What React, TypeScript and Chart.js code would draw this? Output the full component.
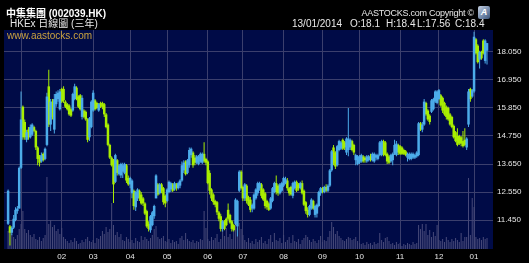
import React, { useEffect, useRef } from 'react';
import { Chart, registerables } from 'chart.js';

Chart.register(...registerables);

// ---- data (13/12/2012 .. 13/01/2014, daily) ----
const opens = [
  11.30,11.20,10.95,11.15,11.45,11.80,11.90,13.50,15.90,15.30,
  14.60,15.00,14.70,14.80,15.10,14.95,14.30,13.95,13.75,14.05,
  13.85,14.40,16.70,15.20,16.10,15.00,16.00,16.20,15.80,16.60,
  16.60,16.10,16.00,15.95,15.80,15.75,16.20,16.65,16.30,16.35,
  15.50,15.75,15.70,15.40,14.70,15.10,15.75,16.15,16.05,15.75,
  16.05,16.05,16.00,15.60,15.20,14.40,13.90,13.80,12.95,13.80,
  13.25,13.20,13.35,13.30,13.60,13.10,12.85,12.50,12.60,11.95,
  12.30,12.60,12.45,12.30,12.10,11.80,11.30,11.05,11.25,11.60,
  12.30,12.85,12.50,12.85,12.70,12.40,12.20,12.55,12.65,12.85,
  12.65,12.85,12.70,12.80,13.00,13.40,13.75,13.30,13.60,14.00,
  14.10,13.90,13.70,13.65,13.75,13.70,14.05,13.85,13.75,13.30,
  12.65,12.45,12.20,12.15,11.75,11.60,11.10,11.40,11.50,11.85,
  11.65,11.40,11.25,11.30,11.20,12.60,13.35,12.75,12.30,12.80,
  12.35,12.25,11.90,11.90,12.30,12.50,12.70,12.85,12.65,12.50,
  12.20,12.10,11.90,12.20,12.55,12.90,12.80,12.50,12.60,12.80,
  12.90,13.00,12.70,12.75,12.40,12.70,12.95,12.85,12.70,12.90,
  12.60,12.15,11.85,11.65,11.90,12.20,11.65,11.70,12.00,12.50,
  12.70,12.55,12.75,12.60,12.80,13.40,14.30,14.10,13.60,14.20,
  14.25,14.60,14.50,14.10,14.20,14.30,14.55,14.40,13.80,13.65,
  13.70,13.75,13.95,13.90,13.75,13.80,13.95,13.80,13.75,13.90,
  13.85,14.00,14.00,14.55,14.50,14.05,13.95,13.75,13.80,14.05,
  14.00,14.40,14.35,14.30,14.20,14.15,13.90,13.85,13.85,13.90,
  13.90,13.95,14.00,15.25,15.00,15.20,16.05,15.75,15.55,15.70,
  15.80,16.10,16.05,16.20,16.35,16.25,16.05,15.90,15.85,15.60,
  15.50,15.15,14.90,14.75,14.75,14.70,14.55,14.60,14.30,15.20,
  16.60,16.30,16.50,18.55,18.30,17.75,18.05,18.50,17.70,18.10,
];
const highs = [
  12.65,11.25,11.20,11.65,11.95,12.00,13.55,16.50,15.95,15.40,
  15.00,15.10,15.20,15.25,15.15,15.00,14.35,14.00,14.10,14.10,
  14.30,16.45,17.35,16.20,16.20,16.40,16.50,16.55,16.60,16.65,
  16.70,16.15,16.05,16.00,15.85,16.45,16.80,16.70,16.35,16.40,
  16.35,15.80,15.75,15.45,15.50,16.15,16.55,16.20,16.10,16.05,
  16.10,16.10,16.05,15.65,15.25,14.45,13.95,13.85,14.05,13.85,
  13.65,13.70,13.70,13.70,13.65,13.20,13.15,13.05,12.65,12.60,
  12.70,12.65,12.55,12.35,12.15,11.85,11.40,11.65,11.80,12.05,
  13.25,12.90,12.90,12.90,12.75,12.45,12.70,13.00,12.95,12.90,
  12.95,12.90,12.95,13.05,13.75,13.80,13.80,13.85,14.30,14.30,
  14.15,14.00,14.00,14.00,14.10,14.10,14.50,13.90,13.80,13.40,
  12.70,12.50,12.25,12.20,11.80,11.70,11.45,11.45,11.55,12.10,
  11.70,11.45,11.30,12.30,12.25,13.40,13.40,12.80,12.90,12.85,
  12.40,12.35,12.10,12.50,12.70,12.95,12.95,12.90,12.70,12.55,
  12.25,12.15,12.35,12.75,12.95,13.20,12.85,12.90,12.95,13.15,
  13.15,13.10,12.75,12.80,12.95,13.00,13.00,12.90,12.95,13.00,
  12.65,12.20,11.95,12.05,12.30,12.25,12.05,12.10,12.60,12.75,
  12.75,12.80,12.85,12.85,13.45,14.20,14.40,14.15,14.40,14.60,
  14.55,14.65,14.55,14.70,15.85,14.65,14.60,14.45,14.05,14.00,
  14.00,14.05,14.00,13.95,14.00,14.00,14.05,14.10,14.10,14.05,
  14.05,14.55,14.60,14.60,14.55,14.10,14.00,14.05,14.10,14.60,
  14.55,14.45,14.40,14.35,14.25,14.20,14.10,14.10,14.10,14.10,
  14.05,14.15,15.30,15.30,15.30,16.20,16.10,15.80,15.60,16.20,
  16.25,16.55,16.55,16.60,16.40,16.30,16.10,15.95,15.90,15.65,
  15.55,15.20,14.95,15.05,14.80,14.75,14.95,15.05,14.70,16.60,
  16.65,16.60,18.85,18.60,18.35,18.10,18.10,18.55,18.55,18.40,
];
const lows = [
  11.25,10.45,10.85,11.10,11.40,11.70,11.90,13.45,14.60,14.60,
  14.50,14.60,14.65,14.75,14.90,14.20,13.60,13.55,13.70,13.75,
  13.80,14.35,15.10,14.95,15.40,14.85,15.90,16.10,15.75,16.05,
  16.05,15.85,15.75,15.55,15.50,15.70,16.15,16.15,15.85,15.75,
  15.40,15.45,15.35,14.50,14.55,15.05,15.70,15.75,15.80,15.70,
  15.85,15.80,15.50,15.05,14.35,13.85,13.55,12.12,12.90,13.20,
  13.20,13.10,13.10,13.25,12.90,12.80,12.70,12.30,11.85,11.80,
  12.20,12.20,12.05,12.00,11.65,11.15,11.00,10.95,11.20,11.50,
  12.30,12.40,12.45,12.50,12.05,11.95,12.15,12.50,12.55,12.55,
  12.60,12.60,12.65,12.70,12.95,13.30,13.20,13.25,13.50,13.90,
  13.50,13.60,13.65,13.60,13.70,13.65,13.70,13.60,12.85,12.45,
  12.20,12.05,11.95,11.65,11.40,11.00,11.00,11.05,11.20,11.45,
  11.30,11.00,11.00,11.25,10.80,12.55,12.65,12.20,12.20,12.10,
  12.00,11.75,11.75,11.85,12.25,12.40,12.60,12.30,12.20,11.90,
  11.85,11.80,11.85,12.15,12.50,12.45,12.40,12.45,12.55,12.75,
  12.85,12.60,12.40,12.40,12.30,12.65,12.55,12.60,12.65,12.45,
  12.00,11.70,11.55,11.60,11.85,11.85,11.55,11.55,11.95,12.40,
  12.50,12.50,12.55,12.55,12.75,13.35,13.60,13.45,13.55,14.15,
  14.20,14.20,14.20,14.00,13.95,14.20,14.15,14.00,13.60,13.60,
  13.65,13.70,13.70,13.70,13.70,13.75,13.75,13.75,13.70,13.80,
  13.80,13.95,13.95,13.95,13.95,13.65,13.65,13.70,13.60,14.00,
  13.95,14.00,14.00,14.00,14.00,13.95,13.75,13.80,13.80,13.85,
  13.85,13.90,13.95,14.95,14.90,15.15,15.55,15.35,15.20,15.65,
  15.75,16.05,16.00,16.15,15.90,15.65,15.55,15.40,15.35,15.15,
  15.05,14.65,14.50,14.35,14.40,14.35,14.30,14.35,14.20,15.10,
  16.10,16.25,16.45,17.95,17.60,17.40,17.75,17.95,17.60,17.56,
];
const closes = [
  12.60,10.95,11.15,11.50,11.85,11.90,13.50,15.40,14.70,14.70,
  14.90,14.70,15.10,15.20,14.95,14.30,13.85,13.70,14.00,13.80,
  14.25,16.30,15.20,16.10,15.50,16.20,16.40,16.45,16.50,16.10,
  16.15,15.90,15.80,15.60,15.55,16.40,16.70,16.20,15.90,15.80,
  16.25,15.50,15.40,14.60,15.45,16.10,16.45,15.80,15.85,16.00,
  15.90,15.90,15.60,15.10,14.40,13.90,13.60,12.85,14.00,13.30,
  13.60,13.65,13.60,13.65,13.00,12.85,13.10,13.00,12.00,12.55,
  12.65,12.30,12.10,12.10,11.70,11.20,11.10,11.60,11.75,12.00,
  13.20,12.45,12.85,12.60,12.15,12.10,12.65,12.95,12.90,12.60,
  12.90,12.70,12.90,13.00,13.60,13.70,13.25,13.80,14.20,14.25,
  13.60,13.70,13.95,13.95,14.05,14.05,13.75,13.70,12.90,12.60,
  12.30,12.15,12.05,11.75,11.50,11.10,11.40,11.10,11.25,11.50,
  11.35,11.10,11.05,12.25,12.20,13.35,12.70,12.30,12.85,12.20,
  12.05,11.85,12.05,12.45,12.65,12.90,12.90,12.40,12.25,12.00,
  11.95,11.85,12.30,12.70,12.90,12.55,12.50,12.85,12.90,13.10,
  13.05,12.70,12.50,12.45,12.90,12.95,12.60,12.70,12.90,12.50,
  12.05,11.80,11.65,12.00,12.25,11.90,12.00,12.05,12.55,12.70,
  12.55,12.75,12.60,12.80,13.40,14.15,13.70,13.55,14.35,14.55,
  14.50,14.25,14.30,14.65,14.65,14.60,14.20,14.10,14.00,13.95,
  13.95,14.00,13.75,13.80,13.95,13.95,13.80,14.05,14.05,14.00,
  14.00,14.50,14.55,14.05,14.00,13.75,13.70,14.00,14.05,14.40,
  14.45,14.10,14.05,14.05,14.05,14.00,14.05,14.05,14.05,14.05,
  14.00,14.10,15.25,15.00,15.20,16.10,15.60,15.40,15.30,16.15,
  16.20,16.50,16.50,16.55,15.95,15.75,15.60,15.50,15.40,15.20,
  15.10,14.70,14.55,14.40,14.45,14.45,14.35,14.40,14.65,16.50,
  16.20,16.55,18.65,18.00,17.65,18.05,17.80,18.00,18.50,18.40,
];
const volumes = [
  18,22,15,12,10,14,20,25,38,20,
  16,19,14,12,15,10,9,12,8,11,
  14,72,25,29,22,24,18,20,15,21,
  12,10,8,6,9,7,11,8,5,6,
  9,7,10,12,8,7,9,6,11,10,
  13,18,15,22,17,20,46,24,14,17,
  12,15,9,8,12,10,7,9,6,11,
  8,7,13,9,12,10,8,11,14,20,
  23,12,10,11,13,8,7,10,6,9,
  7,8,5,11,13,9,16,10,8,7,
  9,6,8,7,10,9,38,21,10,8,
  12,9,11,15,7,10,18,13,21,12,
  15,10,22,24,21,26,20,14,9,7,
  11,6,8,5,10,7,9,12,6,8,
  5,10,14,7,16,9,8,11,6,14,
  7,9,12,6,14,8,7,10,5,9,
  11,14,12,9,7,10,8,6,9,13,
  7,9,8,12,18,27,22,15,18,13,
  11,9,8,10,12,11,9,10,12,8,
  6,5,6,4,7,5,6,4,7,5,
  6,16,9,7,11,12,8,5,6,4,
  7,5,6,3,5,4,6,5,4,7,
  5,6,24,20,25,18,25,14,19,12,
  17,13,24,9,8,10,7,12,9,7,
  10,8,11,9,7,16,8,12,12,71,
  14,51,42,12,10,11,9,12,10,11,
];
// first trading day of each month (index into the series) and its label
const monthStarts = [7, 29, 46, 66, 86, 108, 127, 149, 170, 190, 212, 233, 252];
const monthLabels = ['', '02', '03', '04', '05', '06', '07', '08', '09', '10', '11', '12', '01'];
const yTicks = [11.45, 12.55, 13.65, 14.75, 15.85, 16.95, 18.05];

const NAVY = '#000b47';
const GRID = '#3b3f6d';
const GREEN = '#a8ee00';
const BLUE = '#4cacea';
const VOL = '#474a7a';
const TXT = '#e6e6e6';
const FONT = "'Liberation Sans', Arial, sans-serif";

export default function App() {
  const ref = useRef<HTMLCanvasElement>(null);

  useEffect(() => {
    const idx = closes.map((_, i) => i);
    const isUp = (i: number) => closes[i] >= opens[i];
    const wickData = idx.map((i) => ({ x: i, y: [lows[i], highs[i]] }));
    const wickColors = idx.map((i) => (isUp(i) ? BLUE : GREEN));
    const upBodies = idx.filter(isUp).map((i) => ({ x: i, y: [opens[i], closes[i]] }));
    const downBodies = idx.filter((i) => !isUp(i)).map((i) => ({ x: i, y: [opens[i], closes[i]] }));
    const volData = idx.map((i) => ({ x: i, y: volumes[i] }));

    const bgPlugin = {
      id: 'bg',
      beforeDraw(chart: any) {
        const { ctx, chartArea: a, width, height } = chart;
        ctx.save();
        ctx.fillStyle = '#000';
        ctx.fillRect(0, 0, width, height);
        ctx.fillStyle = NAVY;
        ctx.fillRect(a.left, a.top, a.right - a.left, a.bottom - a.top);
        ctx.restore();
      },
    };

    const chart = new Chart(ref.current as HTMLCanvasElement, {
      type: 'bar',
      data: {
        datasets: [
          { label: 'vol', data: volData as any, yAxisID: 'yv', backgroundColor: VOL, barThickness: 1, grouped: false, order: 4, inflateAmount: 0 } as any,
          { label: 'wick', data: wickData as any, yAxisID: 'y', backgroundColor: wickColors, barThickness: 1, grouped: false, order: 3, inflateAmount: 0 } as any,
          { label: 'down', data: downBodies as any, yAxisID: 'y', backgroundColor: GREEN, barThickness: 2.5, grouped: false, order: 2, inflateAmount: 0 } as any,
          { label: 'up', data: upBodies as any, yAxisID: 'y', backgroundColor: BLUE, barThickness: 2.5, grouped: false, order: 1, inflateAmount: 0 } as any,
        ],
      },
      options: {
        responsive: false,
        animation: false,
        devicePixelRatio: 1,
        layout: { padding: { left: 4, top: 30, right: 0, bottom: 0 } },
        plugins: { legend: { display: false }, tooltip: { enabled: false }, title: { display: false } },
        scales: {
          x: {
            type: 'linear',
            min: -2.22,
            max: 262.24,
            offset: false,
            grid: { color: GRID, drawTicks: false, offset: false, lineWidth: 1 },
            border: { display: false },
            ticks: {
              color: TXT,
              font: { size: 8, family: FONT },
              padding: 3,
              autoSkip: false,
              maxRotation: 0,
              callback: (_v: any, i: number) => monthLabels[i] ?? '',
            },
            afterBuildTicks: (s: any) => {
              s.ticks = monthStarts.map((v) => ({ value: v }));
            },
            afterFit: (s: any) => {
              s.height = 14;
            },
          },
          y: {
            type: 'linear',
            position: 'right',
            min: 10.311,
            max: 18.914,
            grid: { color: GRID, drawTicks: false, lineWidth: 1 },
            border: { display: false },
            ticks: {
              color: TXT,
              font: { size: 8, family: FONT },
              padding: 4,
              callback: (v: any) => Number(v).toFixed(3),
            },
            afterBuildTicks: (s: any) => {
              s.ticks = yTicks.map((v) => ({ value: v }));
            },
            afterFit: (s: any) => {
              s.width = 36;
            },
          },
          yv: { type: 'linear', display: false, min: 0, max: 219 },
        },
      } as any,
      plugins: [bgPlugin],
    });
    return () => chart.destroy();
  }, []);

  const base: React.CSSProperties = {
    position: 'absolute',
    fontFamily: FONT,
    whiteSpace: 'pre',
    lineHeight: '12px',
    pointerEvents: 'none',
  };

  return (
    <div style={{ position: 'relative', width: 529, height: 263, background: '#000', overflow: 'hidden' }}>
      <style>{'html,body{margin:0;padding:0;background:#000;}'}</style>
      <canvas ref={ref} width={529} height={263} style={{ display: 'block', width: 529, height: 263 }} />
      <div style={{ ...base, left: 6, top: 8, fontSize: 10, fontWeight: 'bold', color: '#ffffff', fontFamily: "'Liberation Sans','Noto Sans CJK TC',sans-serif" }}>
        中集集團 (002039.HK)
      </div>
      <div style={{ ...base, left: 10, top: 18, fontSize: 10, color: '#e8e8e8', fontFamily: "'Liberation Sans','Noto Sans CJK TC',sans-serif" }}>
        HKEx 日線圖 (三年)
      </div>
      <div style={{ ...base, left: 7, top: 30, fontSize: 10, color: '#c9a23f' }}>www.aastocks.com</div>
      <div style={{ ...base, right: 55, top: 7, fontSize: 9, letterSpacing: -0.25, color: '#e8e8e8' }}>AASTOCKS.com Copyright ©</div>
      <div
        style={{
          position: 'absolute',
          left: 478,
          top: 6,
          width: 12,
          height: 13,
          borderRadius: 2,
          background: 'linear-gradient(135deg,#c7d2e2,#6f86a8 60%,#3c5478)',
          color: '#ffffff',
          fontFamily: FONT,
          fontSize: 9,
          fontWeight: 'bold',
          fontStyle: 'italic',
          lineHeight: '13px',
          textAlign: 'center',
        }}
      >
        A
      </div>
      <div style={{ ...base, left: 292, top: 18, fontSize: 10, color: '#e8e8e8' }}>13/01/2014</div>
      <div style={{ ...base, left: 350, top: 18, fontSize: 10, color: '#e8e8e8' }}>O:18.1</div>
      <div style={{ ...base, left: 386, top: 18, fontSize: 10, color: '#e8e8e8' }}>H:18.4</div>
      <div style={{ ...base, left: 417, top: 18, fontSize: 10, color: '#e8e8e8' }}>L:17.56</div>
      <div style={{ ...base, left: 455, top: 18, fontSize: 10, color: '#e8e8e8' }}>C:18.4</div>
    </div>
  );
}
